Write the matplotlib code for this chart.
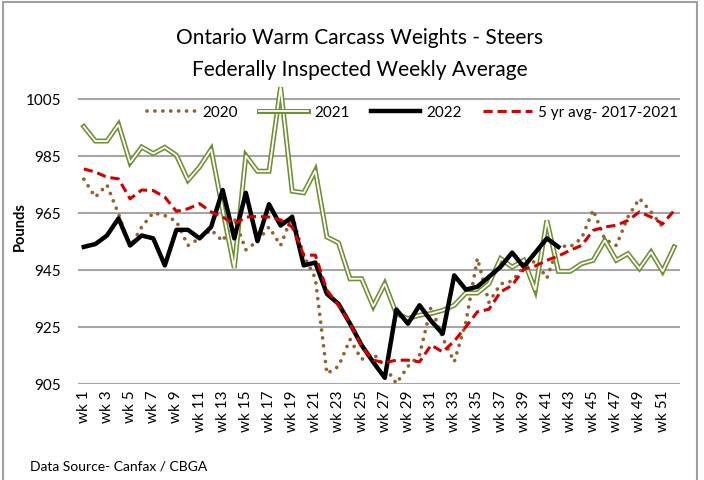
import matplotlib
matplotlib.use("Agg")
import matplotlib.pyplot as plt
from matplotlib.patches import Rectangle

plt.rcParams['font.family'] = ['Lato', 'DejaVu Sans']

weeks = list(range(1, 53))
tick_weeks = list(range(1, 53, 2))
tick_labels = ["wk " + str(w) for w in tick_weeks]

y2020 = [976.8, 970.5, 974.8, 964.6, 953, 960, 965, 964, 962, 953.5,
         956, 959, 955, 963, 952, 955, 960, 953.5, 964, 950,
         942, 908.5, 911, 920.5, 913.5, 915.5, 911, 905, 911, 915,
         932, 921, 912.6, 926.5, 949, 933.5, 940, 941, 946, 948,
         942, 953.5, 953, 956, 966, 955.7, 953.5, 963.5, 970, 965.3, 960]
y2021 = [995.3, 990.2, 990.2, 996, 982.6, 988.1, 985.8, 988, 985.2, 976.4,
         981.1, 987.3, 966, 945.6, 985.1, 979.6, 979.6, 1009.1, 972.6, 972,
         979.8, 956.5, 954.4, 941.8, 941.8, 932.1, 940.1, 929.5, 927.8, 929,
         929.6, 930.7, 932.5, 936.8, 936.8, 940.1, 948.9, 945.9, 948.3, 937.8,
         962.3, 944.4, 944.4, 947.1, 948.3, 955.3, 948.3, 950.6, 945.4, 951.2, 944.4, 953]
y2022 = [953, 954, 957, 963, 953.5, 957, 956, 946.5, 959, 959,
         956, 960, 973, 956, 972, 955, 968, 960.5, 963.5, 946.5,
         947.5, 936.5, 933, 926, 918.5, 912.5, 907, 931, 926, 932.5,
         927, 922.5, 943, 938, 939, 942.5, 946, 951, 946, 951, 956, 953]
avg5 = [980.4, 979.3, 977.5, 976.9, 969.9, 973, 972.8, 970.5, 965.5, 966.4,
        968.2, 965.3, 963.5, 961, 963.5, 963.7, 963.5, 962.5, 960, 950.1,
        950.1, 937.8, 932.5, 926.1, 917.9, 913.2, 912.3, 913.2, 913.2, 912.6,
        918.5, 916.1, 919.9, 924.9, 930.2, 931.1, 937.2, 939.5, 945.1, 946.3,
        948.3, 949.8, 951.8, 953.5, 958.8, 960, 960.6, 962.3, 965.3, 963.5, 961.1, 965.8]
y_ticks = [905, 925, 945, 965, 985, 1005]

brown = "#93632f"
green = "#6f8f32"
red = "#d40000"

fig = plt.figure(figsize=(7.04, 4.81), dpi=100)
ax = fig.add_axes([78 / 704, 1 - 384.5 / 481, 602 / 704, 304.5 / 481])

l20, = ax.plot(weeks[:len(y2020)], y2020, color=brown, linewidth=2.7,
               linestyle=(0, (0.01, 2.1)), dash_capstyle="round", solid_capstyle="round")
l21a, = ax.plot(weeks, y2021, color=green, linewidth=3.6, solid_joinstyle="miter")
l21b, = ax.plot(weeks, y2021, color="white", linewidth=1.3, solid_joinstyle="miter")
l22, = ax.plot(weeks[:len(y2022)], y2022, color="black", linewidth=3.2)
l5, = ax.plot(weeks, avg5, color=red, linewidth=2.2, linestyle=(0, (3, 1.6)))

ax.set_xlim(0.5, 52.5)
ax.set_ylim(905, 1012)
ax.set_yticks(y_ticks)
ax.set_xticks(tick_weeks)
ax.set_xticklabels(tick_labels, rotation=90, fontsize=11)
ax.tick_params(axis="y", labelsize=11, length=0, pad=12)
ax.tick_params(axis="x", length=0, pad=4)
for s in ["left", "right", "top", "bottom"]:
    ax.spines[s].set_visible(False)
ax.grid(axis="y", color="#a6a6a6", linewidth=1.5)
ax.set_axisbelow(True)
ax.set_ylabel("Pounds", fontsize=10.5, fontweight="bold")
ax.yaxis.set_label_coords(-0.085, 0.52)

ax.legend([l20, (l21a, l21b), l22, l5], ["2020", "2021", "2022", "5 yr avg- 2017-2021"],
          loc="center", bbox_to_anchor=(0.556, 0.892), ncol=4, frameon=False,
          fontsize=11, handlelength=3.2, columnspacing=1.4, handletextpad=0.4)

fig.text(360 / 704, 1 - 38 / 481, "Ontario Warm Carcass Weights - Steers", ha="center", va="center", fontsize=15)
fig.text(360 / 704, 1 - 70 / 481, "Federally Inspected Weekly Average", ha="center", va="center", fontsize=15)
fig.text(30 / 704, 1 - 467 / 481, "Data Source- Canfax / CBGA", ha="left", va="center", fontsize=10)

fig.patches.append(Rectangle((3 / 704, -0.01), 694 / 704, 1 - 3 / 481 + 0.01, transform=fig.transFigure,
                             fill=False, edgecolor="#a0a0a0", linewidth=1.5))

fig.savefig("out.png", dpi=100)
